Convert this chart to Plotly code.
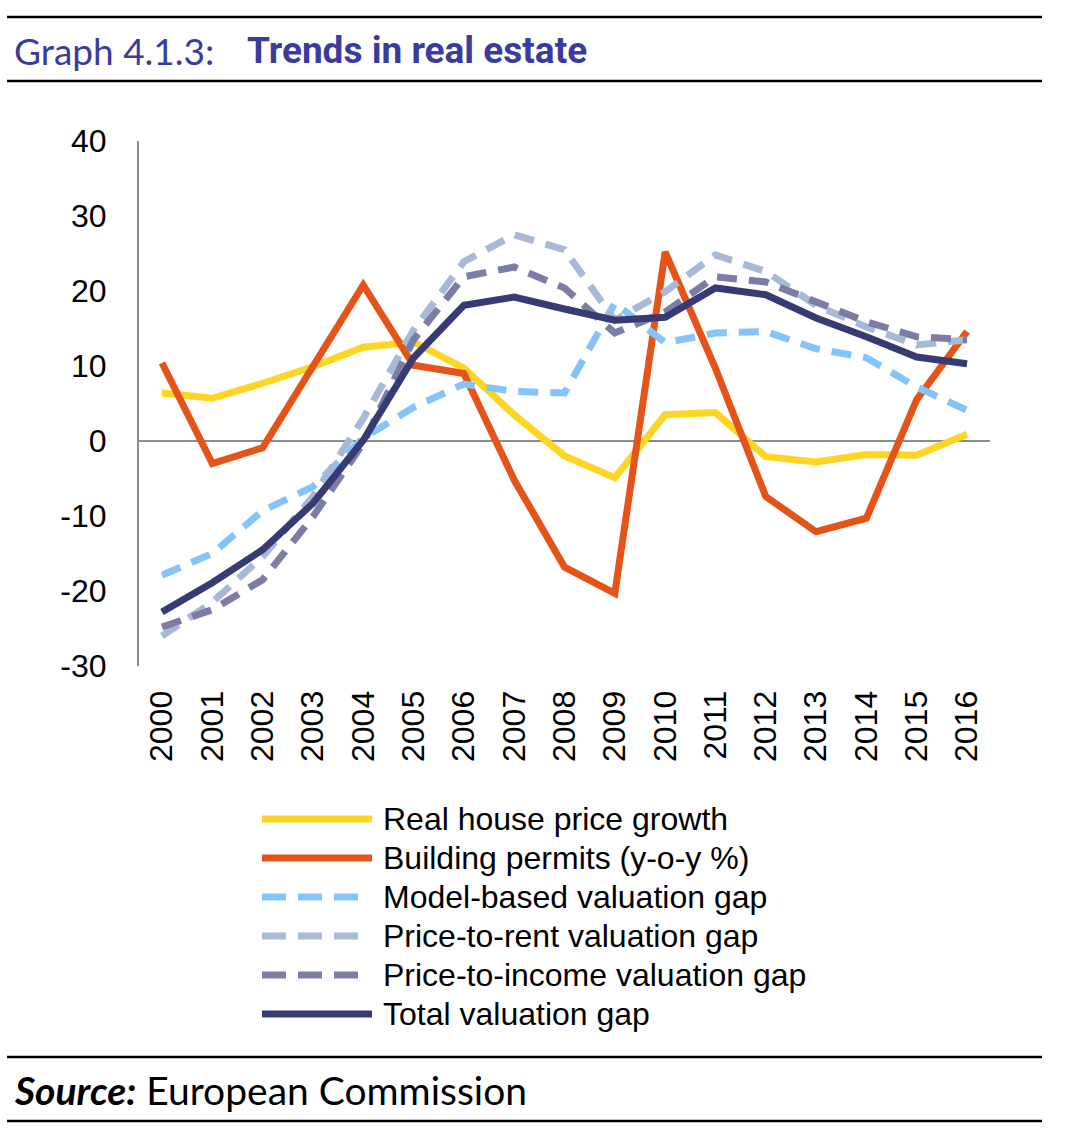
import plotly.graph_objects as go

years = list(range(2000, 2017))

real_house_price_growth = [6.4, 5.7, 7.7, 9.9, 12.5, 13.2, 9.7, 3.5, -2.0, -4.9, 3.5, 3.8, -2.1, -2.8, -1.8, -1.9, 0.9]
building_permits = [10.4, -3.0, -0.9, 9.8, 20.8, 10.1, 9.0, -5.2, -16.8, -20.3, 25.2, 9.7, -7.4, -12.1, -10.3, 5.5, 14.6]
model_based_gap = [-17.9, -15.0, -9.3, -6.1, 0.4, 4.5, 7.6, 6.6, 6.4, 18.4, 13.1, 14.4, 14.6, 12.3, 11.1, 7.2, 4.1]
price_to_rent_gap = [-26.0, -21.5, -15.4, -7.4, 3.0, 14.8, 23.9, 27.5, 25.5, 16.1, 19.9, 24.8, 22.6, 18.1, 15.2, 12.8, 13.5]
price_to_income_gap = [-24.8, -22.5, -18.5, -10.1, -0.3, 13.5, 21.9, 23.2, 20.4, 14.4, 17.2, 21.9, 21.2, 18.5, 15.9, 13.9, 13.5]
total_gap = [-22.8, -18.9, -14.5, -8.3, 0.1, 11.1, 18.1, 19.2, 17.6, 16.1, 16.5, 20.4, 19.5, 16.4, 13.9, 11.2, 10.3]

y_ticks = [-30, -20, -10, 0, 10, 20, 30, 40]
y_tick_labels = ["-30", "-20", "-10", "0", "10", "20", "30", "40"]

series = [
    ("Real house price growth", real_house_price_growth, "#FFD524", "solid"),
    ("Building permits (y-o-y %)", building_permits, "#E65318", "solid"),
    ("Model-based valuation gap", model_based_gap, "#85C4FA", "dash"),
    ("Price-to-rent valuation gap", price_to_rent_gap, "#A7B9D6", "dash"),
    ("Price-to-income valuation gap", price_to_income_gap, "#7B7DA6", "dash"),
    ("Total valuation gap", total_gap, "#363B73", "solid"),
]

W, H = 1067, 1141
L, R, T, B = 139, 990, 141, 666  # plot area pixel bounds


def px(x):
    return (x - L) / (R - L)


def py(y):
    return (B - y) / (B - T)


DASH = "20px,12px"

fig = go.Figure()
for name, vals, color, style in series:
    fig.add_trace(go.Scatter(
        x=years, y=vals, name=name, mode="lines",
        line=dict(color=color, width=7, dash=DASH if style == "dash" else "solid"),
        showlegend=False,
    ))

shapes = []
annotations = []

# Rules
for yy in (17, 81, 1057, 1121):
    shapes.append(dict(type="line", xref="paper", yref="paper",
                       x0=px(7), x1=px(1042), y0=py(yy), y1=py(yy),
                       line=dict(color="black", width=2.5)))

# Title
annotations.append(dict(xref="paper", yref="paper", x=px(12), y=py(51),
                        xanchor="left", yanchor="middle", showarrow=False,
                        text="Graph 4.1.3:",
                        font=dict(family="Lato, Noto Sans, sans-serif", size=37, color="#3B3B9E")))
annotations.append(dict(xref="paper", yref="paper", x=px(245), y=py(51),
                        xanchor="left", yanchor="middle", showarrow=False,
                        text="<b>Trends in real estate</b>",
                        font=dict(family="Liberation Sans Narrow, Arial Narrow, Roboto, sans-serif",
                                  size=37, color="#3B3B9E")))

# Source
annotations.append(dict(xref="paper", yref="paper", x=px(12), y=py(1090),
                        xanchor="left", yanchor="middle", showarrow=False,
                        text="<b><i>Source:</i></b> European Commission",
                        font=dict(family="Lato, Noto Sans, sans-serif", size=39, color="black")))

# Manual legend
leg_rows = [819, 858, 897, 936, 975, 1014]
for (name, vals, color, style), yy in zip(series, leg_rows):
    if style == "dash":
        for a, b in ((262, 286), (298, 322), (334, 358)):
            shapes.append(dict(type="line", xref="paper", yref="paper",
                               x0=px(a), x1=px(b), y0=py(yy), y1=py(yy),
                               line=dict(color=color, width=7)))
    else:
        shapes.append(dict(type="line", xref="paper", yref="paper",
                           x0=px(262), x1=px(372), y0=py(yy), y1=py(yy),
                           line=dict(color=color, width=7)))
    annotations.append(dict(xref="paper", yref="paper", x=px(381), y=py(yy),
                            xanchor="left", yanchor="middle", showarrow=False,
                            text=name,
                            font=dict(family="Liberation Sans, Arial, sans-serif", size=32, color="black")))

fig.update_layout(
    width=W, height=H,
    margin=dict(l=L, r=W - R, t=T, b=H - B, pad=0),
    paper_bgcolor="white", plot_bgcolor="white",
    showlegend=False,
    shapes=shapes,
    annotations=annotations,
    xaxis=dict(
        range=[1999.543, 2016.457],
        tickmode="array", tickvals=years, ticktext=[str(y) for y in years],
        tickangle=-90,
        tickfont=dict(family="Liberation Sans, Arial, sans-serif", size=32, color="black"),
        showgrid=False, zeroline=False, showline=False,
        ticks="outside", ticklen=11, tickcolor="rgba(0,0,0,0)",
        fixedrange=True,
    ),
    yaxis=dict(
        range=[-30, 40],
        tickmode="array", tickvals=y_ticks, ticktext=y_tick_labels,
        tickfont=dict(family="Liberation Sans, Arial, sans-serif", size=32, color="black"),
        showgrid=False,
        zeroline=True, zerolinecolor="#8C8C8C", zerolinewidth=2,
        showline=True, linecolor="#8C8C8C", linewidth=2,
        ticks="outside", ticklen=24, tickcolor="rgba(0,0,0,0)",
        fixedrange=True,
    ),
)

fig.write_html("out.html", config={"displayModeBar": False},
               post_script="document.body.style.margin='0';document.body.style.padding='0';")
